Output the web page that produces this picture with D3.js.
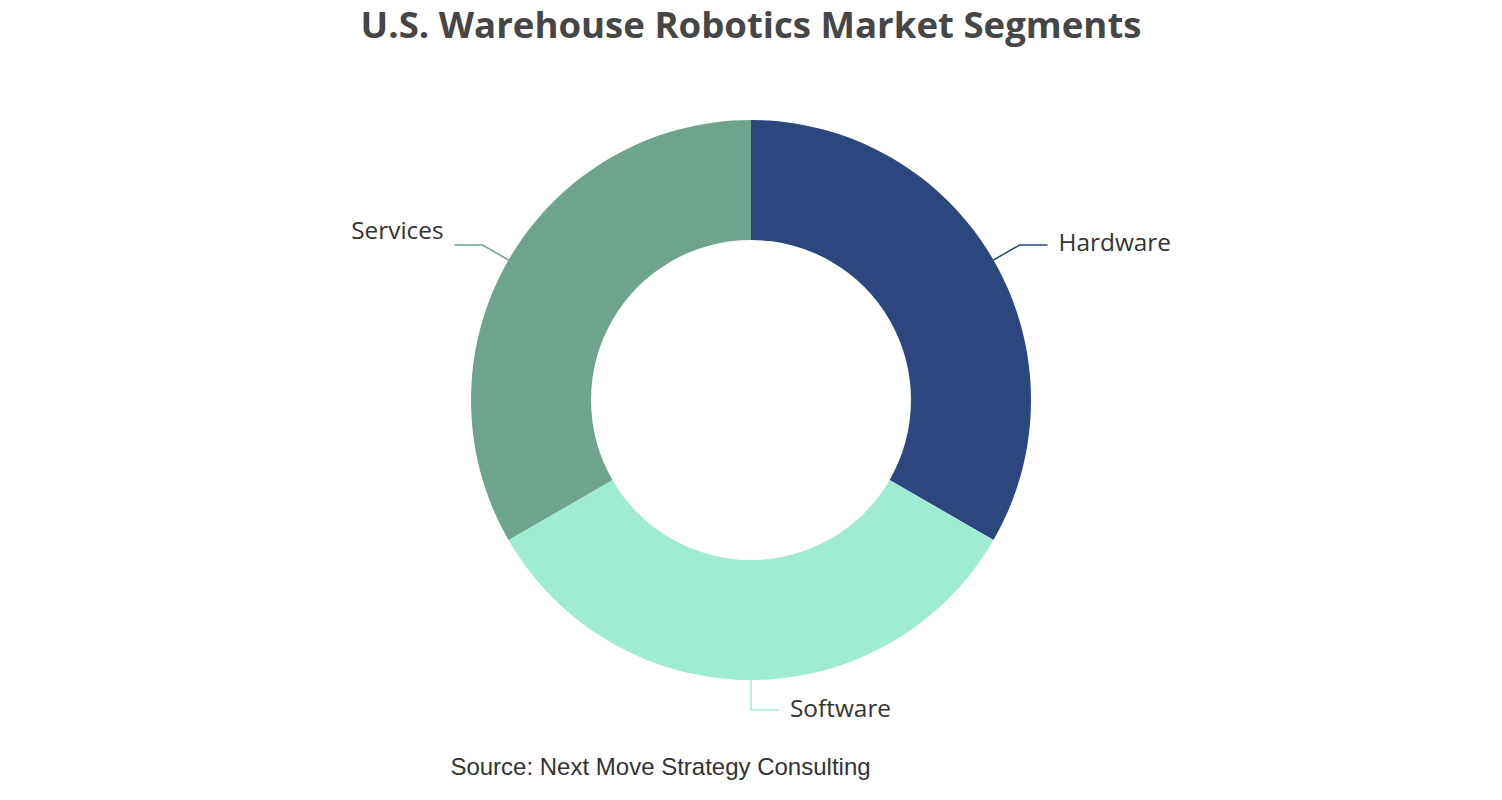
<!DOCTYPE html>
<html>
<head>
<meta charset="utf-8">
<script src="https://cdn.jsdelivr.net/npm/d3@7"></script>
<style>
  body { margin: 0; background: #fff; }
</style>
</head>
<body>
<script>
var segments = ["Hardware", "Software", "Services"]
  , shares = [33.3, 33.3, 33.3]
  , colors = ["#2b477d", "#a0ecd2", "#6ea38e"]
  ;

var width = 1502
  , height = 800
  , cx = 751
  , cy = 400
  , outer = 280
  , inner = 160
  ;

var svg = d3.select("body").append("svg").attr("width", width).attr("height", height);

svg.append("text")
    .attr("x", cx)
    .attr("y", 38)
    .attr("text-anchor", "middle")
    .attr("font-family", "'Open Sans', sans-serif")
    .attr("font-weight", "bold")
    .attr("font-size", 36.6)
    .attr("fill", "#464646")
    .text("U.S. Warehouse Robotics Market Segments");

var pie = d3.pie().sort(null).value(function (d) { return d; });
var arcs = pie(shares);
var arc = d3.arc().innerRadius(inner).outerRadius(outer);

var g = svg.append("g").attr("transform", "translate(" + cx + "," + cy + ")");

g.selectAll("path.slice")
    .data(arcs)
  .enter().append("path")
    .attr("class", "slice")
    .attr("d", arc)
    .attr("fill", function (d, i) { return colors[i]; });

// label lines: first leg out from the rim, second leg horizontal
// the left label sits a little higher than its line, as in the original
var labelShift = [-3, -2, -15];

arcs.forEach(function (d, i) {
    var mid = (d.startAngle + d.endAngle) / 2
      , sx = Math.sin(mid), sy = -Math.cos(mid)
      , p0 = [outer * sx, outer * sy]
      , p1 = [(outer + 30) * sx, (outer + 30) * sy]
      , side = sx < -0.01 ? -1 : 1
      , p2 = [p1[0] + side * 28, p1[1]]
      ;
    g.append("polyline")
        .attr("points", [p0, p1, p2].map(function (p) { return p.join(","); }).join(" "))
        .attr("fill", "none")
        .attr("stroke", colors[i])
        .attr("stroke-width", 1.5);
    g.append("text")
        .attr("x", p2[0] + side * 11)
        .attr("y", p2[1] + labelShift[i])
        .attr("dy", "0.35em")
        .attr("text-anchor", side > 0 ? "start" : "end")
        .attr("font-family", "'Open Sans', sans-serif")
        .attr("font-size", 24.4)
        .attr("fill", "#333")
        .text(segments[i]);
});

svg.append("text")
    .attr("x", 660.5)
    .attr("y", 775)
    .attr("text-anchor", "middle")
    .attr("font-family", "'Liberation Sans', Arial, sans-serif")
    .attr("font-size", 24)
    .attr("fill", "#333")
    .text("Source: Next Move Strategy Consulting");
</script>
</body>
</html>
